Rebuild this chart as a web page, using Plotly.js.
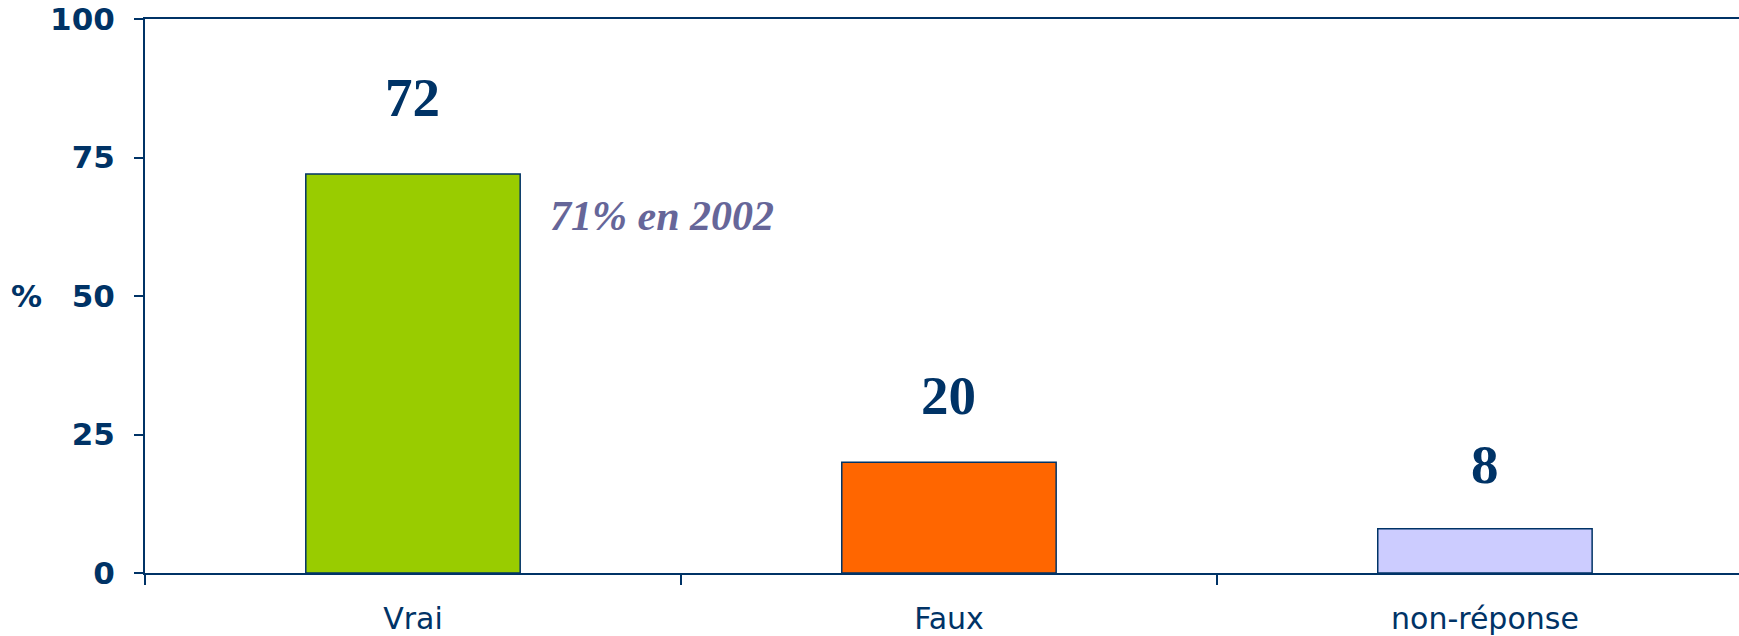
<!DOCTYPE html>
<html>
<head>
<meta charset="utf-8">
<script src="https://cdn.plot.ly/plotly-3.0.1.min.js"></script>
<style>
html,body{margin:0;padding:0;background:#fff;}
#chart{width:1739px;height:636px;}
</style>
</head>
<body>
<div id="chart"></div>
<script>
const categories = ['Vrai', 'Faux', 'non-réponse'];
const values = [72, 20, 8];
const barColors = ['#99CC00', '#FF6600', '#CCCCFF'];
const yTicks = [0, 25, 50, 75, 100];
const noteText = '71% en 2002';
const yLabel = '%';

const navy = '#003366';

const trace = {
  type: 'bar',
  x: categories,
  y: values,
  width: 0.4,
  marker: {color: barColors, line: {color: navy, width: 1.5}},
  hoverinfo: 'none'
};

const annotations = categories.map((c, i) => ({
  x: c, y: values[i], xref: 'x', yref: 'y',
  text: '<b>' + String(values[i]) + '</b>',
  showarrow: false,
  xanchor: 'center', yanchor: 'bottom',
  yshift: 30.5 + 0.19 * values[i],
  font: {family: 'Liberation Serif', size: 55, weight: 'bold', color: navy}
}));

annotations.push({
  x: categories[0], y: 64.4, xref: 'x', yref: 'y',
  xanchor: 'left', yanchor: 'middle', xshift: 135,
  text: '<b><i>' + noteText + '</i></b>',
  showarrow: false,
  font: {family: 'Liberation Serif', size: 42, weight: 'bold', color: '#666699'}
});

annotations.push({
  x: 26, y: 296, xref: 'paper', yref: 'paper',
  xanchor: 'center', yanchor: 'middle',
  text: '<b>' + yLabel + '</b>', showarrow: false,
  font: {family: 'DejaVu Sans', size: 31, weight: 'bold', color: navy}
});

const layout = {
  width: 1739, height: 636,
  margin: {l: 145, r: 0, t: 19, b: 63, pad: 0},
  paper_bgcolor: '#ffffff', plot_bgcolor: '#ffffff',
  showlegend: false,
  xaxis: {
    type: 'category',
    range: [-0.5, 2.474],
    showline: true, linecolor: navy, linewidth: 2, mirror: true,
    ticks: 'outside', tickson: 'boundaries', ticklen: 10, tickwidth: 2, tickcolor: navy,
    showgrid: false, zeroline: false,
    tickfont: {family: 'DejaVu Sans', size: 30, color: navy},
    ticklabelstandoff: 18
  },
  yaxis: {
    range: [0, 100],
    tickvals: yTicks, ticktext: yTicks.map(String),
    showline: true, linecolor: navy, linewidth: 2,
    ticks: 'outside', ticklen: 9, tickwidth: 2, tickcolor: navy,
    showgrid: false, zeroline: false,
    tickfont: {family: 'DejaVu Sans', size: 31, weight: 'bold', color: navy},
    ticklabelstandoff: 13
  },
  annotations: annotations
};

// convert the '%' label position from pixels to paper coordinates
const plotW = 1739 - 145, plotH = 636 - 19 - 63;
const pct = annotations[annotations.length - 1];
pct.x = (pct.x - 145) / plotW;
pct.y = (636 - 63 - pct.y) / plotH;

Plotly.newPlot('chart', [trace], layout, {staticPlot: true, displayModeBar: false});
</script>
</body>
</html>
